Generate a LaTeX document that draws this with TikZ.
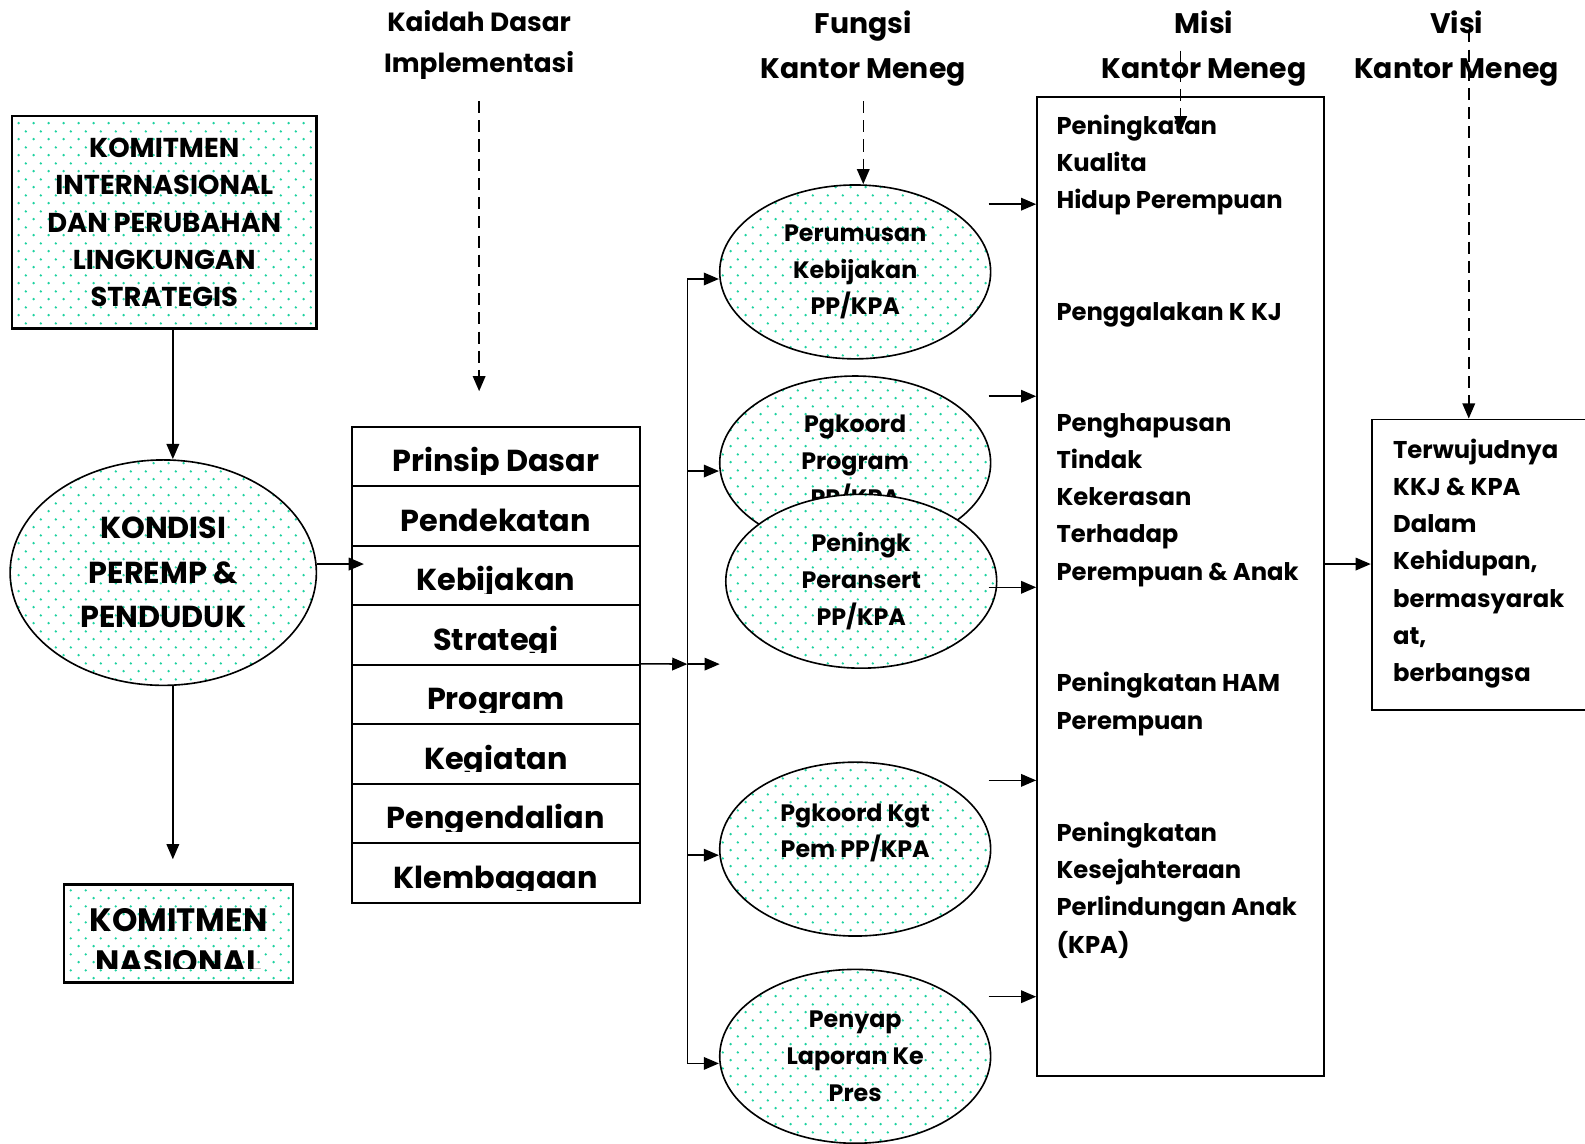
\documentclass[tikz,border=0pt]{standalone}
\usepackage{fontspec}
\setmainfont{Poppins}
\usetikzlibrary{arrows.meta,patterns.meta,shapes.geometric}
\definecolor{dotgreen}{RGB}{30,210,160}
\tikzdeclarepattern{
  name=gdots, type=uncolored,
  bounding box={(0pt,0pt) and (15pt,16pt)},
  tile size={(15pt,16pt)},
  code={\fill (3.75pt,4pt) circle (1.35pt); \fill (11.25pt,12pt) circle (1.35pt);}
}
\begin{document}
\begin{tikzpicture}[x=1pt,y=-1pt,
  arr/.style={-{Triangle[length=15pt,width=12.5pt]}, line width=1.5pt},
  dsh/.style={arr, dash pattern=on 12pt off 7pt},
  dotfill/.style={preaction={fill=white}, pattern=gdots, pattern color=dotgreen},
  ell/.style={ellipse, draw, line width=1.6pt, dotfill, minimum width=268pt, minimum height=172pt, inner sep=0pt, align=center, font=\fontsize{23.5}{36.5}\selectfont\bfseries},
  dbox/.style={rectangle, draw, line width=2.2pt, dotfill, inner sep=0pt, align=center},
  wbox/.style={rectangle, draw, line width=1.9pt, fill=white, inner sep=0pt},
  rowbox/.style={wbox, minimum width=285pt, minimum height=58.9pt},
  hdr/.style={align=center},
  mtext/.style={anchor=west, align=left, inner sep=0pt, font=\fontsize{24}{36.8}\selectfont\bfseries}
]
\useasboundingbox (0,0) rectangle (1568,1131);

% headers
\node[hdr, font=\fontsize{26}{41}\selectfont\bfseries] (h1) at (474,44.5) {Kaidah Dasar\\Implementasi};
\node[hdr, font=\fontsize{28}{44}\selectfont\bfseries] (h2) at (854,48) {Fungsi\\Kantor Meneg};
\node[hdr, font=\fontsize{28}{44}\selectfont\bfseries] (h3) at (1191,48) {Misi\\Kantor Meneg};
\node[hdr, font=\fontsize{28}{44}\selectfont\bfseries] (h4) at (1441,48) {Visi\\Kantor Meneg};

% left column
\node[dbox, minimum width=301pt, minimum height=210pt, font=\fontsize{27}{36.8}\selectfont\bfseries] (kint) at (162.5,220) {KOMITMEN\\INTERNASIONAL\\DAN PERUBAHAN\\LINGKUNGAN\\STRATEGIS};
\node[ell, minimum width=303pt, minimum height=223pt, font=\fontsize{30}{44}\selectfont\bfseries] (kond) at (161.5,566.5) {KONDISI\\PEREMP \&\\PENDUDUK};
\node[dbox, minimum width=227pt, minimum height=97pt] (nas) at (176.5,923.5) {};
\begin{scope}
  \clip (65,877) rectangle (288,958);
  \node[align=center, font=\fontsize{32}{41}\selectfont\bfseries] (nast) at (176.5,931) {KOMITMEN\\NASIONAL};
\end{scope}

% table
\foreach \i in {1,...,8} \node[rowbox] (r\i) at (490.5,{422+58.9*(\i-1)+29.45}) {};
\foreach \t [count=\i] in {Prinsip Dasar,Pendekatan,Kebijakan,Strategi,Program,Kegiatan,Pengendalian,Klembagaan}{
  \pgfmathsetmacro\rt{422+58.9*(\i-1)}
  \begin{scope}
    \clip (349,\rt+1) rectangle (632,\rt+47);
    \node[anchor=base, font=\fontsize{30}{36}\selectfont\bfseries] (t\i) at (490.5,\rt+44.5) {\t};
  \end{scope}
}

% function ellipses
\node[ell] (per) at (846,269) {Perumusan\\Kebijakan\\PP/KPA};
\node[ell] (pgp) at (846,458) {Pgkoord\\Program\\PP/KPA};
\node[ell] (pen) at (852,575) {Peningk\\Peransert\\PP/KPA};
\node[ell] (pgk) at (846,840) {Pgkoord Kgt\\Pem PP/KPA\\\mbox{}};
\node[ell] (pny) at (846,1045) {Penyap\\Laporan Ke\\Pres};

% misi box
\node[wbox, minimum width=284pt, minimum height=968pt] (misi) at (1168,580) {};
\node[mtext] (mt1) at (1045,163.5) {Peningkatan\\Kualita\\Hidup Perempuan};
\node[mtext] (mt2) at (1045,311) {Penggalakan K KJ};
\node[mtext] (mt3) at (1045,494.5) {Penghapusan\\Tindak\\Kekerasan\\Terhadap\\Perempuan \& Anak};
\node[mtext] (mt4) at (1045,696.5) {Peningkatan HAM\\Perempuan};
\node[mtext] (mt5) at (1045,880.5) {Peningkatan\\Kesejahteraan\\Perlindungan Anak\\(KPA)};

% visi box
\node[wbox, minimum width=250pt, minimum height=287pt] (visi) at (1482,558.5) {};
\node[mtext] (vt) at (1378,557.5) {Terwujudnya\\KKJ \& KPA\\Dalam\\Kehidupan,\\bermasyarak\\at,\\berbangsa};

% connectors left
\coordinate (a1) at (171,0);
\coordinate (a2) at (171,850);
\draw[arr] (kint.south -| a1) -- (kond.north -| a1);
\draw[arr] (kond.south -| a2) -- (a2);
\coordinate (k2) at (360,558);
\draw[arr] (kond.east |- k2) -- (k2);

% bus
\coordinate (b1) at (680,276);
\coordinate (b2) at (680,466);
\coordinate (b0) at (680,657);
\coordinate (b0e) at (712,657);
\coordinate (b3) at (680,846);
\coordinate (b4) at (680,1052);
\draw[line width=1.5pt] (b1) -- (b4);
\draw[arr] (r5.north east) -- (b0);
\draw[arr] (b0) -- (b0e);
\draw[arr] (b1) -- (b1 -| per.west);
\draw[arr] (b2) -- (b2 -| pgp.west);
\draw[arr] (b3) -- (b3 -| pgk.west);
\draw[arr] (b4) -- (b4 -| pny.west);

% arrows to misi
\foreach \y [count=\i] in {202,392,581,772,986}{
  \coordinate (m\i) at (978,\y);
  \draw[arr] (m\i) -- (m\i -| misi.west);
}
\coordinate (v0) at (1310,558);
\draw[arr] (misi.east |- v0) -- (visi.west |- v0);

% dashed arrows
\coordinate (d1s) at (474,100);
\coordinate (d1e) at (474,387);
\draw[dsh] (d1s) -- (d1e);
\coordinate (d2s) at (854,100);
\draw[dsh] (d2s) -- (d2s |- per.north);
\coordinate (d3s) at (1168,50);
\coordinate (d3e) at (1168,130);
\draw[dsh] (d3s) -- (d3e);
\coordinate (d4s) at (1453,30);
\draw[dsh] (d4s) -- (d4s |- visi.north);
\end{tikzpicture}
\end{document}
